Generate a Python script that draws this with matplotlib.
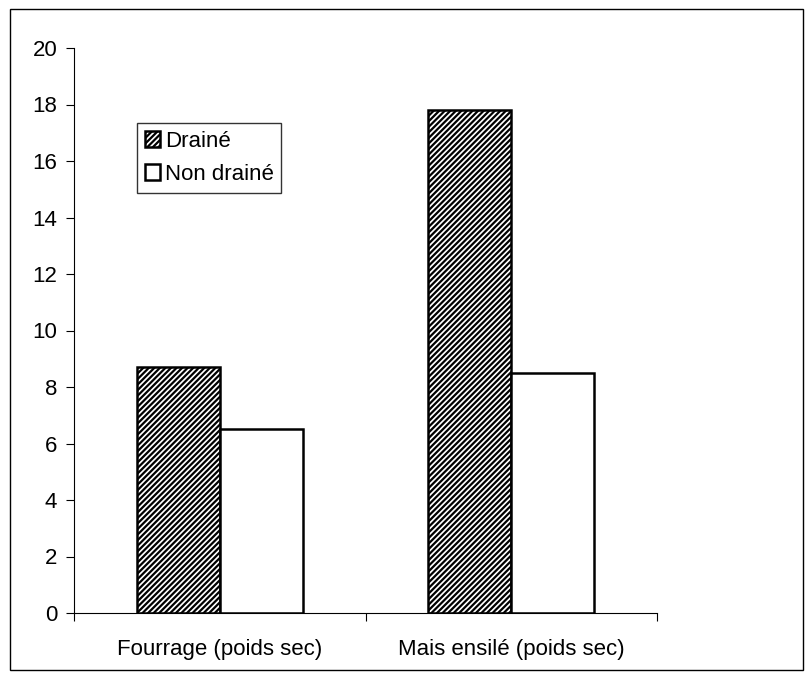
import numpy as np
import matplotlib.pyplot as plt
from matplotlib.patches import Rectangle

plt.rcParams['font.family'] = ['Liberation Sans', 'DejaVu Sans']
plt.rcParams['hatch.linewidth'] = 1.6

categories = ['Fourrage (poids sec)', 'Mais ensilé (poids sec)']
series_names = ['Drainé', 'Non drainé']
draine = [8.7, 17.8]
non_draine = [6.5, 8.5]
yticks = [0, 2, 4, 6, 8, 10, 12, 14, 16, 18, 20]

fig = plt.figure(figsize=(8.1, 6.79), dpi=100)
ax = fig.add_axes([74/810, 66/679, (657-74)/810, (613-48)/679])

# outer chart frame
fig.patches.append(Rectangle((10/810, 9/679), 793/810, 661/679,
                             transform=fig.transFigure, fill=False,
                             edgecolor='black', linewidth=1.0))

x = np.arange(len(categories))
w = 0.285
ax.bar(x - w/2, draine, w, color='white', edgecolor='black', hatch='//////',
       linewidth=1.8, label=series_names[0])
ax.bar(x + w/2, non_draine, w, color='white', edgecolor='black',
       linewidth=1.8, label=series_names[1])

ax.set_xlim(-0.5, len(categories) - 0.5)
ax.set_ylim(0, 20)
ax.set_yticks(yticks)
ax.set_xticks(x)
ax.set_xticklabels(categories)
ax.set_xticks(np.arange(len(categories) + 1) - 0.5, minor=True)
ax.tick_params(axis='x', which='major', length=0, pad=19, labelsize=16)
ax.tick_params(axis='x', which='minor', length=6, width=0.8)
ax.tick_params(axis='y', length=6, width=0.8, pad=6, labelsize=16)

for s in ['top', 'right']:
    ax.spines[s].set_visible(False)
for s in ['left', 'bottom']:
    ax.spines[s].set_linewidth(0.8)

leg = ax.legend(loc='upper left', bbox_to_anchor=((137-74)/583, (613-123)/565),
                fontsize=16, frameon=True, fancybox=False, edgecolor='black',
                handlelength=0.7, handleheight=0.7, handletextpad=0.2,
                borderpad=0.35, labelspacing=0.55, borderaxespad=0)
leg.get_frame().set_linewidth(1.0)

fig.savefig('out.png', dpi=100)
